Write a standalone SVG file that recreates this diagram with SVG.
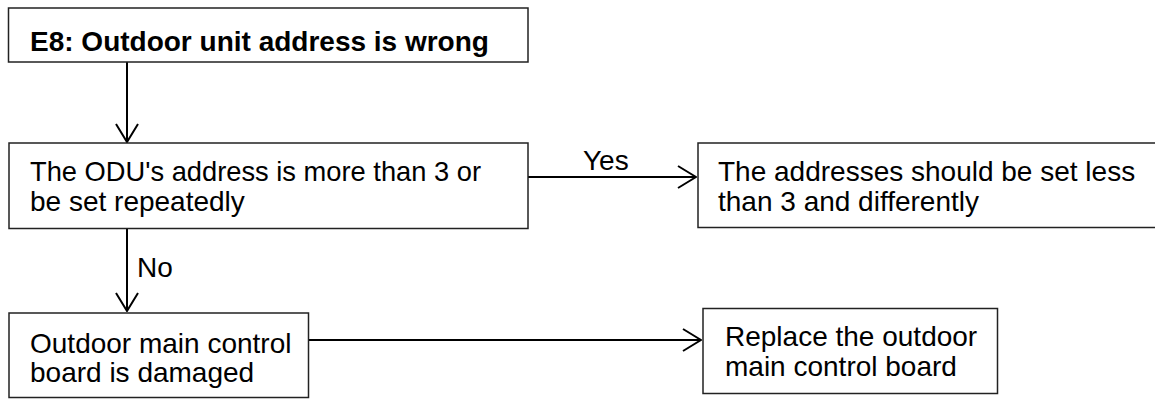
<svg xmlns="http://www.w3.org/2000/svg" width="1155" height="399" viewBox="0 0 1155 399">
<defs>
<style>
.box{fill:#fff;stroke:#222;stroke-width:1.5}
.t{font-family:"Liberation Sans",Arial,sans-serif;font-size:28px;fill:#000}
.b{font-weight:bold}
.c{fill:none;stroke:#000;stroke-width:2}
</style>
<marker id="arr" viewBox="0 0 20 24" refX="19" refY="12" markerWidth="20" markerHeight="24" markerUnits="userSpaceOnUse" orient="auto">
<path d="M1,1 L19,12 L1,23" fill="none" stroke="#000" stroke-width="2"/>
</marker>
</defs>
<rect width="1155" height="399" fill="#fff"/>
<g id="connectors">
<line class="c" x1="127" y1="62" x2="127" y2="142" marker-end="url(#arr)"/>
<line class="c" x1="528" y1="177" x2="696" y2="177" marker-end="url(#arr)"/>
<line class="c" x1="127" y1="229" x2="127" y2="311" marker-end="url(#arr)"/>
<line class="c" x1="309" y1="340" x2="701" y2="340" marker-end="url(#arr)"/>
<text class="t" x="583" y="170" font-size="26.5">Yes</text>
<text class="t" x="137" y="277" font-size="26.5">No</text>
</g>
<g id="n1">
<rect class="box" x="8.5" y="8" width="519.5" height="54"/>
<text class="t b" x="30" y="51">E8: Outdoor unit address is wrong</text>
</g>
<g id="n2">
<rect class="box" x="9" y="143" width="519" height="85.5"/>
<text class="t" x="30" y="181" textLength="451" lengthAdjust="spacingAndGlyphs">The ODU's address is more than 3 or</text>
<text class="t" x="30" y="211">be set repeatedly</text>
</g>
<g id="n3">
<rect class="box" x="698" y="143" width="462" height="84.5"/>
<text class="t" x="718" y="181">The addresses should be set less</text>
<text class="t" x="718" y="211">than 3 and differently</text>
</g>
<g id="n4">
<rect class="box" x="9" y="313" width="299.5" height="84.5"/>
<text class="t" x="30" y="353">Outdoor main control</text>
<text class="t" x="30" y="382">board is damaged</text>
</g>
<g id="n5">
<rect class="box" x="703" y="308.5" width="294.5" height="85"/>
<text class="t" x="725" y="346">Replace the outdoor</text>
<text class="t" x="725" y="376">main control board</text>
</g>
</svg>
